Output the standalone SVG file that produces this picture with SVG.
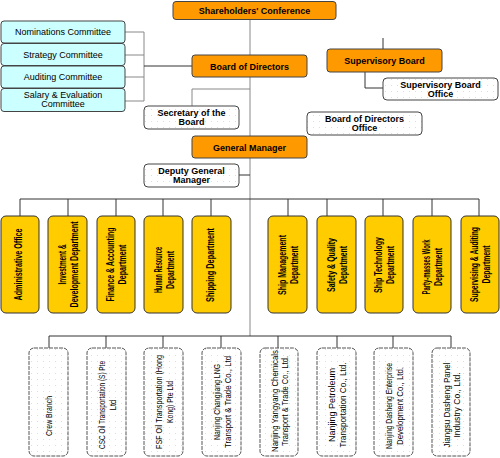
<svg xmlns="http://www.w3.org/2000/svg" width="500" height="458" viewBox="0 0 500 458">
<defs>
<pattern id="dots" width="6" height="6" patternUnits="userSpaceOnUse">
<rect width="6" height="6" fill="#ffffff"/>
<circle cx="1.5" cy="1.5" r="0.5" fill="#d4d4d4"/>
</pattern>
<style>
.org{fill:#FF9900;stroke:#444;stroke-width:1}
.cyan{fill:#CCFFFF;stroke:#444;stroke-width:1}
.wht{fill:url(#dots);stroke:#444;stroke-width:1}
.dept{fill:#FFCC00;stroke:#333;stroke-width:1}
.sub{fill:url(#dots);stroke:#555;stroke-width:1;stroke-dasharray:4 1}
.t{font-family:"Liberation Sans",Arial,sans-serif;font-size:9px;fill:#000;text-anchor:middle}
.b{font-weight:bold}
.v{font-family:"Liberation Sans",Arial,sans-serif;font-size:10px;font-weight:bold;fill:#000;text-anchor:middle}
.s{font-family:"Liberation Sans",Arial,sans-serif;font-size:9.5px;fill:#000;text-anchor:middle}
.ln{fill:none;stroke:#333;stroke-width:1}
.lg{fill:none;stroke:#888;stroke-width:1}
</style>
</defs>
<rect width="500" height="458" fill="#fff"/>
<g id="connectors">
<path class="lg" d="M250,19V336"/>
<path class="lg" d="M125,32H144M125,55H144M125,77H144M125,101H144M144,32V101"/>
<path class="ln" d="M144,66H192"/>
<path class="ln" d="M383,38V49"/>
<path class="ln" d="M365,72V88H383"/>
<path class="lg" d="M250,89H192V106"/>
<path class="ln" d="M239,175H250"/>
<path class="ln" d="M20,199H479"/>
<path class="ln" d="M20,199V216M68,199V216M116,199V216M163,199V216M211,199V216M288,199V216M327,199V216M383,199V216M432,199V216M479,199V216"/>
<path class="ln" d="M49,336H451"/>
<path class="ln" d="M49,336V348M106,336V348M163,336V348M221,336V348M278,336V348M337,336V348M393,336V348M451,336V348"/>
</g>
<g id="shareholders"><rect class="org" x="173" y="1.5" width="163" height="18" rx="3"/><text class="t b" x="254.5" y="14">Shareholders' Conference</text></g>
<g id="board"><rect class="org" x="192" y="55" width="115" height="22" rx="3"/><text class="t b" x="249.5" y="69.5">Board of Directors</text></g>
<g id="supervisory"><rect class="org" x="327" y="49" width="115" height="23" rx="3"/><text class="t b" x="384.5" y="63.5">Supervisory Board</text></g>
<g id="supervisory-office"><rect class="wht" x="383" y="78" width="115" height="22" rx="4"/><text class="t b" x="440.5" y="87.5">Supervisory Board</text><text class="t b" x="440.5" y="96.5">Office</text></g>
<g id="nominations"><rect class="cyan" x="1" y="21" width="124" height="22" rx="3"/><text class="t" x="63" y="35">Nominations Committee</text></g>
<g id="strategy"><rect class="cyan" x="1" y="43.5" width="124" height="22" rx="3"/><text class="t" x="63" y="57.5">Strategy Committee</text></g>
<g id="auditing"><rect class="cyan" x="1" y="66" width="124" height="22" rx="3"/><text class="t" x="63" y="80">Auditing Committee</text></g>
<g id="salary"><rect class="cyan" x="1" y="88.5" width="124" height="23" rx="3"/><text class="t" x="63" y="98">Salary &amp; Evaluation</text><text class="t" x="63" y="107">Committee</text></g>
<g id="secretary"><rect class="wht" x="144" y="106" width="95" height="23" rx="4"/><text class="t b" x="191.5" y="116">Secretary of the</text><text class="t b" x="191.5" y="125">Board</text></g>
<g id="bod-office"><rect class="wht" x="307" y="112" width="115" height="23" rx="4"/><text class="t b" x="364.5" y="122">Board of Directors</text><text class="t b" x="364.5" y="131">Office</text></g>
<g id="gm"><rect class="org" x="192" y="136" width="115" height="22" rx="3"/><text class="t b" x="249.5" y="150.5">General Manager</text></g>
<g id="deputy"><rect class="wht" x="144" y="164" width="95" height="23" rx="4"/><text class="t b" x="191.5" y="174">Deputy General</text><text class="t b" x="191.5" y="183">Manager</text></g>

<g id="d-admin"><rect class="dept" x="1" y="216" width="38" height="97" rx="5"/><g transform="translate(20,264.5) rotate(-90)"><text class="v" y="2" textLength="72" lengthAdjust="spacingAndGlyphs">Administrative Office</text></g></g>
<g id="d-invest"><rect class="dept" x="48" y="216" width="39" height="97" rx="5"/><g transform="translate(67.5,264.5) rotate(-90)"><text class="v" y="-2" textLength="40" lengthAdjust="spacingAndGlyphs">Investment &amp;</text><text class="v" y="10" textLength="86" lengthAdjust="spacingAndGlyphs">Development Department</text></g></g>
<g id="d-finance"><rect class="dept" x="97" y="216" width="38" height="97" rx="5"/><g transform="translate(116,264.5) rotate(-90)"><text class="v" y="-2" textLength="74" lengthAdjust="spacingAndGlyphs">Finance &amp; Accounting</text><text class="v" y="10" textLength="40" lengthAdjust="spacingAndGlyphs">Department</text></g></g>
<g id="d-hr"><rect class="dept" x="144" y="216" width="39" height="97" rx="5"/><g transform="translate(163.5,270) rotate(-90)"><text class="v" y="-2" textLength="46" lengthAdjust="spacingAndGlyphs">Human Resource</text><text class="v" y="10" textLength="38" lengthAdjust="spacingAndGlyphs">Department</text></g></g>
<g id="d-shipping"><rect class="dept" x="192" y="216" width="39" height="97" rx="5"/><g transform="translate(211.5,265) rotate(-90)"><text class="v" y="2" textLength="74" lengthAdjust="spacingAndGlyphs">Shipping Department</text></g></g>
<g id="d-shipmgmt"><rect class="dept" x="268" y="216" width="39" height="97" rx="5"/><g transform="translate(287.5,265) rotate(-90)"><text class="v" y="-2" textLength="60" lengthAdjust="spacingAndGlyphs">Ship Management</text><text class="v" y="10" textLength="38" lengthAdjust="spacingAndGlyphs">Department</text></g></g>
<g id="d-safety"><rect class="dept" x="317" y="216" width="39" height="97" rx="5"/><g transform="translate(336.5,265) rotate(-90)"><text class="v" y="-2" textLength="54" lengthAdjust="spacingAndGlyphs">Safety &amp; Quality</text><text class="v" y="10" textLength="38" lengthAdjust="spacingAndGlyphs">Department</text></g></g>
<g id="d-shiptech"><rect class="dept" x="365" y="216" width="38" height="97" rx="5"/><g transform="translate(384,265) rotate(-90)"><text class="v" y="-2" textLength="56" lengthAdjust="spacingAndGlyphs">Ship Technology</text><text class="v" y="10" textLength="38" lengthAdjust="spacingAndGlyphs">Department</text></g></g>
<g id="d-party"><rect class="dept" x="413" y="216" width="38" height="97" rx="5"/><g transform="translate(432,267) rotate(-90)"><text class="v" y="-2" textLength="55" lengthAdjust="spacingAndGlyphs">Party-masses Work</text><text class="v" y="10" textLength="38" lengthAdjust="spacingAndGlyphs">Department</text></g></g>
<g id="d-supervising"><rect class="dept" x="461" y="216" width="38" height="97" rx="5"/><g transform="translate(479.5,264.5) rotate(-90)"><text class="v" y="-2" textLength="75" lengthAdjust="spacingAndGlyphs">Supervising &amp; Auditing</text><text class="v" y="10" textLength="38" lengthAdjust="spacingAndGlyphs">Department</text></g></g>

<g id="s-crew"><rect class="sub" x="29" y="348" width="39" height="108" rx="5"/><g transform="translate(48.5,416) rotate(-90)"><text class="s" y="3.5" textLength="40" lengthAdjust="spacingAndGlyphs">Crew Branch</text></g></g>
<g id="s-csc"><rect class="sub" x="87" y="348" width="39" height="108" rx="5"/><g transform="translate(106.5,405) rotate(-90)"><text class="s" y="-1.5" textLength="88" lengthAdjust="spacingAndGlyphs">CSC Oil Transportation (S) Pte</text><text class="s" y="9" textLength="11" lengthAdjust="spacingAndGlyphs">Ltd</text></g></g>
<g id="s-fsf"><rect class="sub" x="144" y="348" width="39" height="108" rx="5"/><g transform="translate(163.5,402) rotate(-90)"><text class="s" y="-1.5" textLength="94" lengthAdjust="spacingAndGlyphs">FSF Oil Transportation (Hong</text><text class="s" y="9" textLength="42" lengthAdjust="spacingAndGlyphs">Kong) Pte Ltd</text></g></g>
<g id="s-changjiang"><rect class="sub" x="202" y="348" width="39" height="108" rx="5"/><g transform="translate(221.5,402) rotate(-90)"><text class="s" y="-1.5" textLength="76" lengthAdjust="spacingAndGlyphs">Nanjing Changjiang LNG</text><text class="s" y="9" textLength="92" lengthAdjust="spacingAndGlyphs">Transport &amp; Trade Co., Ltd</text></g></g>
<g id="s-yangyang"><rect class="sub" x="260" y="348" width="38" height="108" rx="5"/><g transform="translate(279,401) rotate(-90)"><text class="s" y="-1.5" textLength="102" lengthAdjust="spacingAndGlyphs">Nanjing Yangyang Chemicals</text><text class="s" y="9" textLength="90" lengthAdjust="spacingAndGlyphs">Transport &amp; Trade Co., Ltd.</text></g></g>
<g id="s-petroleum"><rect class="sub" x="317" y="348" width="39" height="108" rx="5"/><g transform="translate(336.5,405) rotate(-90)"><text class="s" y="-1.5" textLength="74" lengthAdjust="spacingAndGlyphs">Nanjing Petroleum</text><text class="s" y="9" textLength="85" lengthAdjust="spacingAndGlyphs">Transportation Co., Ltd.</text></g></g>
<g id="s-dasheng"><rect class="sub" x="374" y="348" width="39" height="108" rx="5"/><g transform="translate(393.5,406) rotate(-90)"><text class="s" y="-1.5" textLength="86" lengthAdjust="spacingAndGlyphs">Nanjing Dasheng Enterprise</text><text class="s" y="9" textLength="78" lengthAdjust="spacingAndGlyphs">Development Co., Ltd.</text></g></g>
<g id="s-jiangsu"><rect class="sub" x="432" y="348" width="38" height="108" rx="5"/><g transform="translate(451,405) rotate(-90)"><text class="s" y="-1.5" textLength="85" lengthAdjust="spacingAndGlyphs">Jiangsu Dasheng Panel</text><text class="s" y="9" textLength="65" lengthAdjust="spacingAndGlyphs">Industry Co., Ltd.</text></g></g>
</svg>
